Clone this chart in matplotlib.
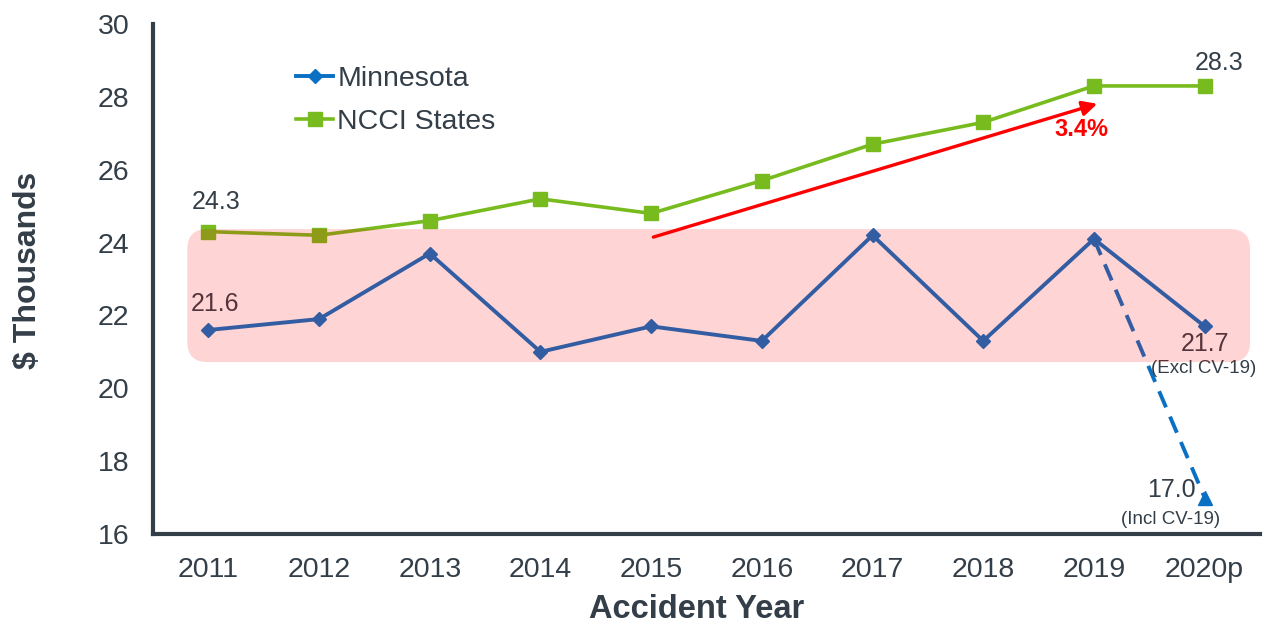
import matplotlib.pyplot as plt
from matplotlib.patches import FancyBboxPatch
from matplotlib.lines import Line2D

plt.rcParams['font.family'] = ['Liberation Sans', 'DejaVu Sans']

# Data
years = ['2011', '2012', '2013', '2014', '2015', '2016', '2017', '2018', '2019', '2020p']
minnesota = [21.6, 21.9, 23.7, 21.0, 21.7, 21.3, 24.2, 21.3, 24.1, 21.7]
ncci = [24.3, 24.2, 24.6, 25.2, 24.8, 25.7, 26.7, 27.3, 28.3, 28.3]
mn_incl_cv19 = [24.1, 17.0]   # 2019 -> 2020p including CV-19
trend_pct = '3.4%'

text_col = '#333e48'
blue = '#0a70c4'
green = '#78bb1e'

x = list(range(len(years)))

fig = plt.figure(figsize=(12.64, 6.26), dpi=100)
ax = fig.add_axes([153 / 1264, 1 - 534 / 626, 1107 / 1264, 510 / 626])

ax.plot(x, minnesota, color=blue, lw=2.8, marker='D', ms=7.5, zorder=3)
ax.plot(x, ncci, color=green, lw=2.6, marker='s', ms=9.5, zorder=3)

# 2020p including CV-19
ax.plot(x[-2:], mn_incl_cv19, color=blue, lw=2.8, dashes=(4.5, 2.6), zorder=3)
ax.plot(x[-1], mn_incl_cv19[-1], color=blue, marker='^', ms=10, zorder=3, ls='none')

# trend arrow
ax.annotate('', xy=(8.03, 27.81), xytext=(4.02, 24.15),
            arrowprops=dict(arrowstyle='-|>', color='red', lw=2.4, mutation_scale=22,
                            shrinkA=0, shrinkB=0), zorder=4)
ax.text(7.89, 27.1, trend_pct, color='red', fontsize=17, fontweight='bold',
        ha='center', va='center', zorder=4)

# value labels
lab = dict(color=text_col, ha='center', va='center', zorder=3)
ax.text(0.07, 25.11, f'{ncci[0]:.1f}', fontsize=18, **lab)
ax.text(0.06, 22.32, f'{minnesota[0]:.1f}', fontsize=18, **lab)
ax.text(9.13, 28.93, f'{ncci[-1]:.1f}', fontsize=18, **lab)
ax.text(9.0, 21.22, f'{minnesota[-1]:.1f}', fontsize=18, **lab)
ax.text(8.99, 20.54, '(Excl CV-19)', fontsize=13.5, **lab)
ax.text(8.70, 17.2, f'{mn_incl_cv19[-1]:.1f}', fontsize=18, **lab)
ax.text(8.69, 16.4, '(Incl CV-19)', fontsize=13.5, **lab)

# highlight box
box = FancyBboxPatch((-0.19, 20.72), 9.60, 3.65,
                     boxstyle='round,pad=0,rounding_size=0.18',
                     mutation_aspect=3.03, facecolor='red', alpha=0.17,
                     edgecolor='none', zorder=5)
ax.add_patch(box)

ax.set_xlim(-0.5, 9.5)
ax.set_ylim(16, 30)
ax.set_xticks(x)
ax.set_xticklabels(years)
ax.set_yticks(range(16, 31, 2))
ax.tick_params(axis='both', length=0, labelsize=20.5, colors=text_col)
ax.tick_params(axis='y', pad=17)
ax.tick_params(axis='x', pad=16.5)

for s in ['top', 'right']:
    ax.spines[s].set_visible(False)
for s in ['left', 'bottom']:
    ax.spines[s].set_linewidth(3)
    ax.spines[s].set_color(text_col)

ax.set_xlabel('Accident Year', fontsize=23.5, fontweight='bold', color=text_col)
ax.xaxis.set_label_coords(0.491, -0.118)
ax.set_ylabel('$ Thousands', fontsize=23, fontweight='bold', color=text_col)
ax.yaxis.set_label_coords(-0.099, 0.516)

handles = [Line2D([], [], color=blue, lw=2.8, marker='D', ms=7.5),
           Line2D([], [], color=green, lw=2.6, marker='s', ms=9.5)]
fig.legend(handles, ['Minnesota', 'NCCI States'], loc='upper left',
           bbox_to_anchor=(296 / 1264, 1 - 66 / 626), frameon=False,
           fontsize=20.5, labelcolor=text_col, borderpad=0, borderaxespad=0,
           handlelength=1.3, handletextpad=0.15, labelspacing=0.6)

fig.savefig('out.png', dpi=100)
